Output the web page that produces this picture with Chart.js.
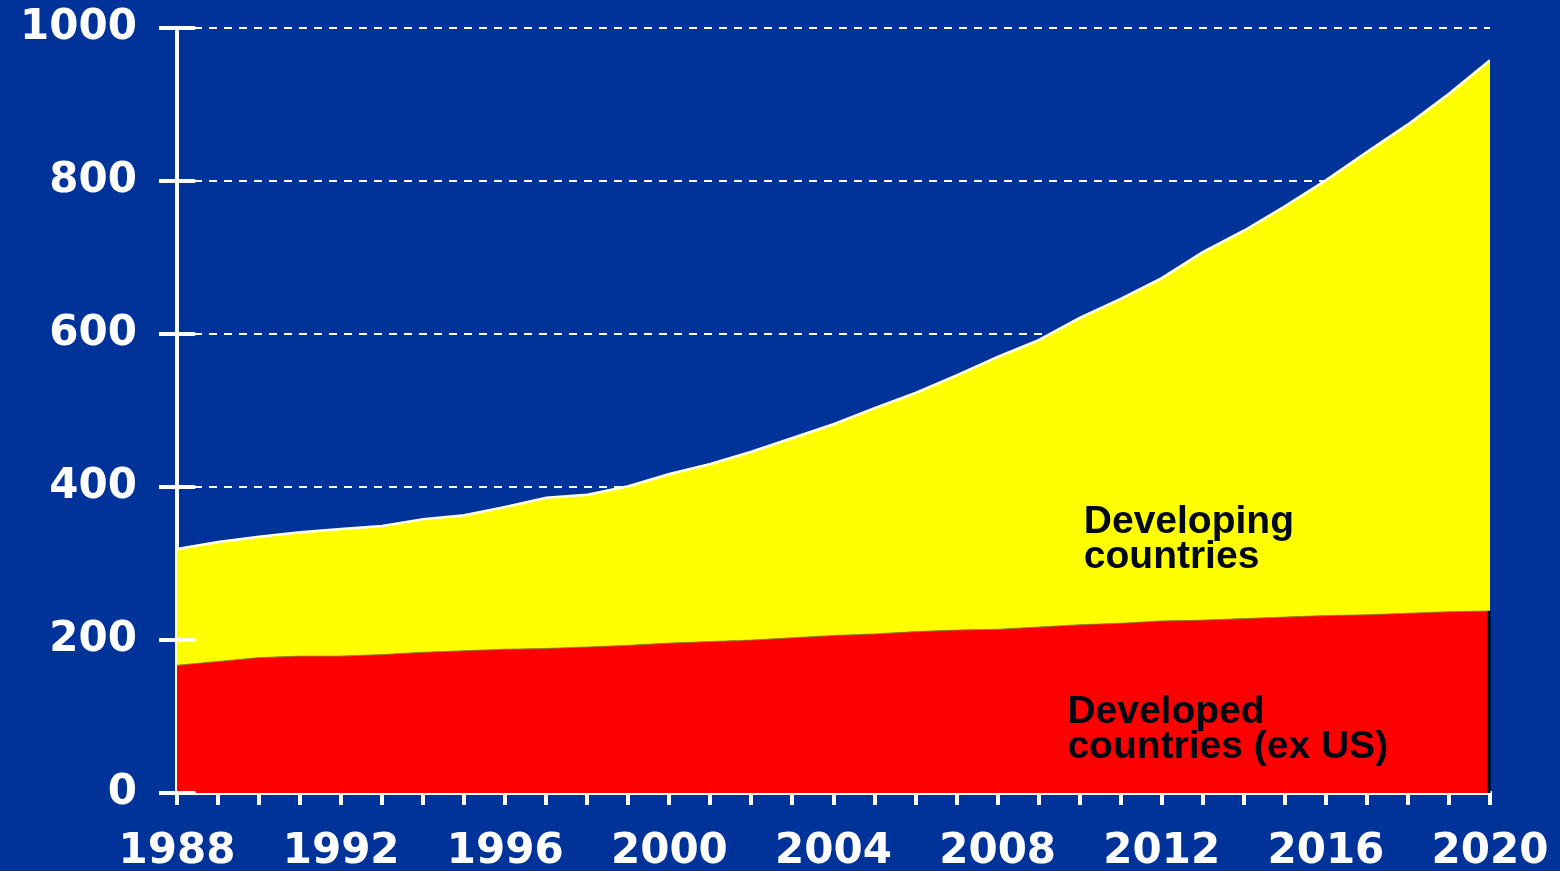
<!DOCTYPE html>
<html>
<head>
<meta charset="utf-8">
<script src="https://cdn.jsdelivr.net/npm/chart.js@4"></script>
<style>
  html, body { margin: 0; padding: 0; background: #003399; }
  #wrap { width: 1560px; height: 871px; }
</style>
</head>
<body>
<div id="wrap"><canvas id="MyChart" width="1560" height="871"></canvas></div>
<script>
const years = [1988, 1989, 1990, 1991, 1992, 1993, 1994, 1995, 1996, 1997, 1998,
    1999, 2000, 2001, 2002, 2003, 2004, 2005, 2006, 2007, 2008, 2009, 2010,
    2011, 2012, 2013, 2014, 2015, 2016, 2017, 2018, 2019, 2020];

const developed = [167, 172, 177, 179, 179, 181, 184, 186, 188, 189, 191,
    193, 196, 198, 200, 203, 206, 208, 211, 213, 214, 217, 220,
    222, 225, 226, 228, 230, 232, 233, 235, 237, 238];

const developing = [152, 156, 158, 162, 166, 168, 174, 177, 186, 197, 199,
    208, 221, 232, 246, 261, 276, 295, 312, 333, 356, 375, 401,
    424, 448, 481, 507, 537, 569, 605, 639, 677, 720];

const yTicks = [0, 200, 400, 600, 800, 1000];
const xLabelYears = [1988, 1992, 1996, 2000, 2004, 2008, 2012, 2016, 2020];

// text labels inside the areas: [lines, x year, y value of first baseline]
const areaLabels = [
    { lines: ["Developing", "countries"], x: 2010.1, y: 340 },
    { lines: ["Developed", "countries (ex US)"], x: 2009.7, y: 91 }
];

const extras = {
    id: "extras",
    afterDatasetsDraw(chart) {
        const c = chart.ctx;
        const xs = chart.scales.x, ys = chart.scales.y;
        // black edge on the right side of the red area
        const last = years.length - 1;
        c.save();
        c.strokeStyle = "#000";
        c.lineWidth = 3;
        c.beginPath();
        c.moveTo(xs.getPixelForValue(years[last]) - 1, ys.getPixelForValue(developed[last]));
        c.lineTo(xs.getPixelForValue(years[last]) - 1, ys.getPixelForValue(0));
        c.stroke();
        // area labels
        c.fillStyle = "#000814";
        c.font = "bold 39px 'Liberation Sans', Arial, sans-serif";
        c.textBaseline = "alphabetic";
        areaLabels.forEach(l => {
            l.lines.forEach((t, i) => {
                c.fillText(t, xs.getPixelForValue(l.x), ys.getPixelForValue(l.y) + i * 35);
            });
        });
        // inner part of the y ticks, crossing the axis
        c.strokeStyle = "#fff";
        c.lineWidth = 4;
        c.lineCap = "round";
        yTicks.forEach(v => {
            const py = ys.getPixelForValue(v);
            c.beginPath();
            c.moveTo(chart.chartArea.left, py);
            c.lineTo(chart.chartArea.left + 17, py);
            c.stroke();
        });
        c.restore();
    }
};

new Chart(document.getElementById("MyChart").getContext("2d"), {
    type: "line",
    data: {
        labels: years,
        datasets: [
            {
                label: "Developed countries (ex US)",
                data: years.map((y, i) => ({ x: y, y: developed[i] })),
                backgroundColor: "#ff0000",
                borderColor: "rgba(150,150,0,0.8)",
                borderWidth: 1,
                fill: "origin",
                pointRadius: 0,
                tension: 0
            },
            {
                label: "Developing countries",
                data: years.map((y, i) => ({ x: y, y: developing[i] })),
                backgroundColor: "#ffff00",
                borderColor: "#ffffff",
                borderWidth: 2.5,
                fill: "-1",
                pointRadius: 0,
                tension: 0
            }
        ]
    },
    options: {
        responsive: false,
        animation: false,
        layout: { padding: { top: 28, right: 70, left: 0, bottom: 0 } },
        plugins: { legend: { display: false }, tooltip: { enabled: false } },
        scales: {
            x: {
                type: "linear",
                min: 1988,
                max: 2020,
                afterFit: s => { s.height = 78; s.paddingLeft = 0; s.paddingRight = 0; },
                afterBuildTicks: s => { s.ticks = years.map(v => ({ value: v })); },
                border: { color: "#fff", width: 4 },
                grid: { display: true, drawOnChartArea: false, color: "#fff", lineWidth: 4, tickLength: 12 },
                ticks: {
                    autoSkip: false,
                    maxRotation: 0,
                    color: "#fff",
                    font: { family: "DejaVu Sans", weight: "bold", size: 42 },
                    padding: 22,
                    callback: v => xLabelYears.includes(v) ? String(v) : ""
                }
            },
            y: {
                stacked: true,
                min: 0,
                max: 1000,
                afterFit: s => { s.width = 177; s.paddingTop = 0; s.paddingBottom = 0; },
                afterBuildTicks: s => { s.ticks = yTicks.map(v => ({ value: v })); },
                border: { color: "#fff", width: 4, dash: [8, 7] },
                grid: {
                    color: "#fff",
                    lineWidth: 2,
                    tickLength: 18,
                    tickColor: "#fff",
                    tickWidth: 4,
                    tickBorderDash: []
                },
                ticks: {
                    color: "#fff",
                    font: { family: "DejaVu Sans", weight: "bold", size: 42 },
                    padding: 22,
                    callback: v => String(v)
                }
            }
        }
    },
    plugins: [extras]
});
</script>
</body>
</html>
